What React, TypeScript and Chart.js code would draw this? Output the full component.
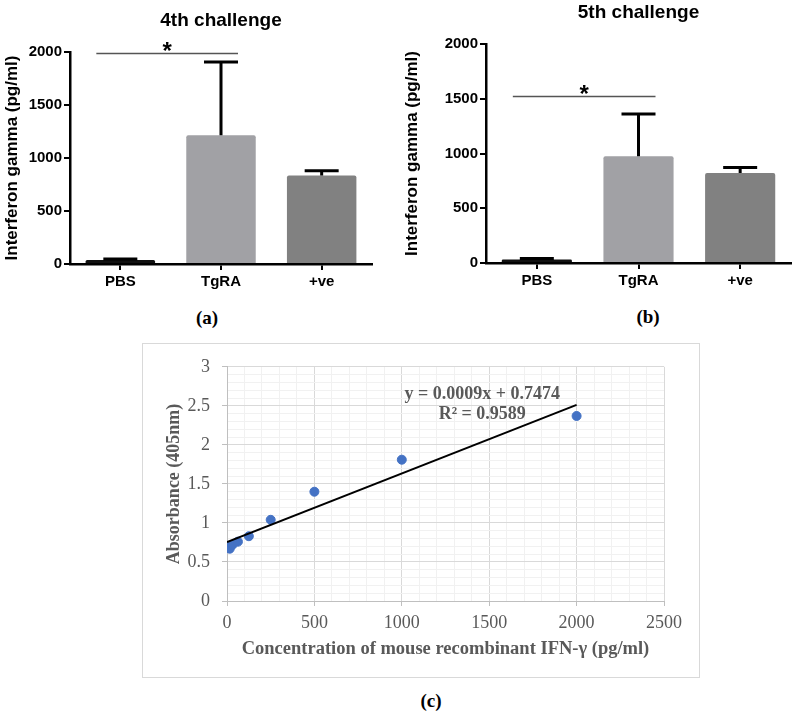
import { useEffect, useRef } from "react";
import { Chart, registerables } from "chart.js";

Chart.register(...registerables);

// bar panels (a) and (b)
const groups = ["PBS", "TgRA", "+ve"];
const means4th = [38, 1215, 835];
const errors4th = [8, 690, 45];
const means5th = [33, 975, 822];
const errors5th = [8, 385, 50];
const sigLine4th = 1985;
const sigLine5th = 1520;
const barTicks = [0, 500, 1000, 1500, 2000];
const barColors = ["#111111", "#a1a1a5", "#818181"];

// standard curve panel (c)
const concentrations = [0, 15.6, 31.25, 62.5, 125, 250, 500, 1000, 2000];
const absorbance = [0.69, 0.67, 0.72, 0.76, 0.83, 1.04, 1.4, 1.81, 2.37];
const fitLabel = ["y = 0.0009x + 0.7474", "R² = 0.9589"];

const sans = "'Liberation Sans', Arial, sans-serif";
const serif = "'Liberation Serif', 'Times New Roman', serif";

type BarPanel = {
  title: string;
  means: number[];
  errors: number[];
  sig: number;
  left: number;
  yWidth: number;
  padRight: number;
  titleTop: number;
  xHeight: number;
};

const panelA: BarPanel = {
  title: "4th challenge",
  means: means4th,
  errors: errors4th,
  sig: sigLine4th,
  left: 0,
  yWidth: 70,
  padRight: 28,
  titleTop: 9.6,
  xHeight: 36,
};

const panelB: BarPanel = {
  title: "5th challenge",
  means: means5th,
  errors: errors5th,
  sig: sigLine5th,
  left: 400,
  yWidth: 86,
  padRight: 9,
  titleTop: 1.6,
  xHeight: 37,
};

function barExtras(errors: number[], sig: number) {
  return {
    id: "barExtras",
    afterDatasetsDraw(chart: any) {
      const { ctx } = chart;
      const x = chart.scales.x;
      const y = chart.scales.y;
      const meta = chart.getDatasetMeta(0);
      const values = chart.data.datasets[0].data as number[];
      ctx.save();
      ctx.strokeStyle = "#000";
      ctx.lineWidth = 3;
      meta.data.forEach((bar: any, i: number) => {
        const yBar = y.getPixelForValue(values[i]);
        const yTop = y.getPixelForValue(values[i] + errors[i]);
        ctx.beginPath();
        ctx.moveTo(bar.x, yBar);
        ctx.lineTo(bar.x, yTop);
        ctx.moveTo(bar.x - 17, yTop);
        ctx.lineTo(bar.x + 17, yTop);
        ctx.stroke();
      });
      const x0 = x.getPixelForValue(0) - 24;
      const x1 = x.getPixelForValue(1) + 17;
      const ys = y.getPixelForValue(sig);
      ctx.strokeStyle = "#555";
      ctx.lineWidth = 1.5;
      ctx.beginPath();
      ctx.moveTo(x0, ys);
      ctx.lineTo(x1, ys);
      ctx.stroke();
      ctx.fillStyle = "#000";
      ctx.font = `bold 24px ${sans}`;
      ctx.textAlign = "center";
      ctx.textBaseline = "alphabetic";
      ctx.fillText("*", (x0 + x1) / 2, ys + 5);
      ctx.restore();
    },
  };
}

function BarChart({ p }: { p: BarPanel }) {
  const ref = useRef<HTMLCanvasElement>(null);

  useEffect(() => {
    if (!ref.current) return;
    const chart = new Chart(ref.current, {
      type: "bar",
      data: {
        labels: groups,
        datasets: [
          {
            data: p.means,
            backgroundColor: barColors,
            borderWidth: 0,
            borderRadius: 2,
            borderSkipped: "bottom",
            barPercentage: 0.69,
            categoryPercentage: 1,
          },
        ],
      },
      options: {
        animation: false,
        responsive: false,
        layout: { padding: { left: 0, right: p.padRight, top: 0, bottom: 0 } },
        plugins: {
          legend: { display: false },
          tooltip: { enabled: false },
          title: {
            display: true,
            fullSize: false,
            text: p.title,
            color: "#000",
            font: { family: sans, size: 19, weight: "bold" },
            padding: { top: p.titleTop, bottom: 19.6 },
          },
        },
        scales: {
          x: {
            grid: {
              drawOnChartArea: false,
              offset: false,
              tickLength: 6,
              color: "#000",
              lineWidth: 2,
            },
            border: { color: "#000", width: 2.5 },
            ticks: {
              color: "#000",
              font: { family: sans, size: 15, weight: "bold" },
              padding: 3,
            },
            afterFit: (s: any) => {
              s.height = p.xHeight;
            },
          },
          y: {
            min: 0,
            max: 2000,
            afterBuildTicks: (s: any) => {
              s.ticks = barTicks.map((v) => ({ value: v }));
            },
            grid: {
              drawOnChartArea: false,
              tickLength: 6,
              color: "#000",
              lineWidth: 2,
            },
            border: { color: "#000", width: 2.5 },
            ticks: {
              color: "#000",
              font: { family: sans, size: 15, weight: "bold" },
              padding: 2,
              callback: (v: any) => String(v),
            },
            title: {
              display: true,
              text: "Interferon gamma (pg/ml)",
              color: "#000",
              font: { family: sans, size: 17, weight: "bold" },
              padding: { top: 2, bottom: 0 },
            },
            afterFit: (s: any) => {
              s.width = p.yWidth;
            },
          },
        },
      },
      plugins: [barExtras(p.errors, p.sig)],
    });
    return () => chart.destroy();
  }, [p]);

  return (
    <canvas
      ref={ref}
      width={400}
      height={300}
      style={{ position: "absolute", left: p.left, top: 0, width: 400, height: 300 }}
    />
  );
}

function fitLine() {
  const n = concentrations.length;
  const mx = concentrations.reduce((a, b) => a + b, 0) / n;
  const my = absorbance.reduce((a, b) => a + b, 0) / n;
  let sxy = 0;
  let sxx = 0;
  concentrations.forEach((c, i) => {
    sxy += (c - mx) * (absorbance[i] - my);
    sxx += (c - mx) * (c - mx);
  });
  const slope = sxy / sxx;
  const icpt = my - slope * mx;
  const xs = [Math.min(...concentrations), Math.max(...concentrations)];
  return xs.map((v) => ({ x: v, y: icpt + slope * v }));
}

const fitLabelPlugin = {
  id: "fitLabel",
  afterDatasetsDraw(chart: any) {
    const { ctx } = chart;
    const x = chart.scales.x.getPixelForValue(1460);
    ctx.save();
    ctx.fillStyle = "#595959";
    ctx.font = `bold 18px ${serif}`;
    ctx.textAlign = "center";
    ctx.textBaseline = "middle";
    ctx.fillText(fitLabel[0], x, chart.scales.y.getPixelForValue(2.65));
    ctx.fillText(fitLabel[1], x, chart.scales.y.getPixelForValue(2.39));
    ctx.restore();
  },
};

const isMajor = (v: number, step: number) =>
  Math.abs(v / step - Math.round(v / step)) < 1e-6;

function CurveChart() {
  const ref = useRef<HTMLCanvasElement>(null);

  useEffect(() => {
    if (!ref.current) return;
    const tickFont = { family: serif, size: 18 };
    const titleFont = { family: serif, size: 18, weight: "bold" as const };
    const chart = new Chart(ref.current, {
      type: "scatter",
      data: {
        datasets: [
          {
            type: "line",
            data: fitLine(),
            borderColor: "#000",
            borderWidth: 2,
            pointRadius: 0,
            fill: false,
          },
          {
            type: "scatter",
            data: concentrations.map((c, i) => ({ x: c, y: absorbance[i] })),
            backgroundColor: "#4472c4",
            borderColor: "#4472c4",
            pointRadius: 4.5,
          },
        ],
      },
      options: {
        animation: false,
        responsive: false,
        layout: { padding: { left: 0, right: 35, top: 19, bottom: 0 } },
        plugins: { legend: { display: false }, tooltip: { enabled: false } },
        scales: {
          x: {
            type: "linear",
            min: 0,
            max: 2500,
            ticks: {
              stepSize: 100,
              autoSkip: false,
              maxRotation: 0,
              color: "#595959",
              font: tickFont,
              padding: 6,
              callback: (v: any) => (isMajor(v, 500) ? String(v) : ""),
            },
            grid: {
              color: (c: any) => (isMajor(c.tick.value, 500) ? "#d9d9d9" : "#f1f1f1"),
              tickColor: (c: any) =>
                isMajor(c.tick.value, 500) ? "#bfbfbf" : "rgba(0,0,0,0)",
              tickLength: 5,
            },
            border: { color: "#bfbfbf", width: 1 },
            title: {
              display: true,
              text: "Concentration of mouse recombinant IFN-γ (pg/ml)",
              color: "#595959",
              font: { ...titleFont, size: 18.5 },
              padding: { top: 0, bottom: 16.8 },
            },
            afterFit: (s: any) => {
              s.height = 76;
            },
          },
          y: {
            min: 0,
            max: 3,
            ticks: {
              stepSize: 0.1,
              autoSkip: false,
              color: "#595959",
              font: tickFont,
              padding: 12,
              callback: (v: any) => (isMajor(v, 0.5) ? String(Math.round(v * 10) / 10) : ""),
            },
            grid: {
              color: (c: any) => (isMajor(c.tick.value, 0.5) ? "#d9d9d9" : "#f1f1f1"),
              tickColor: (c: any) =>
                isMajor(c.tick.value, 0.5) ? "#bfbfbf" : "rgba(0,0,0,0)",
              tickLength: 5,
            },
            border: { color: "#bfbfbf", width: 1 },
            title: {
              display: true,
              text: "Absorbance (405nm)",
              color: "#595959",
              font: titleFont,
              padding: { top: 21, bottom: 0 },
            },
            afterFit: (s: any) => {
              s.width = 84;
            },
          },
        },
      },
      plugins: [fitLabelPlugin],
    });
    return () => chart.destroy();
  }, []);

  return <canvas ref={ref} width={556} height={333} style={{ width: 556, height: 333 }} />;
}

const panelLabel = (left: number, top: number): React.CSSProperties => ({
  position: "absolute",
  left,
  top,
  transform: "translate(-50%, -50%)",
  fontFamily: serif,
  fontWeight: "bold",
  fontSize: 19,
  color: "#000",
  lineHeight: 1,
});

export default function App() {
  return (
    <div
      style={{
        position: "absolute",
        left: 0,
        top: 0,
        width: 800,
        height: 713,
        background: "#fff",
        overflow: "hidden",
      }}
    >
      <BarChart p={panelA} />
      <BarChart p={panelB} />
      <div style={panelLabel(207, 317)}>(a)</div>
      <div style={panelLabel(648, 316)}>(b)</div>
      <div
        style={{
          position: "absolute",
          left: 142,
          top: 343,
          width: 556,
          height: 333,
          border: "1px solid #d9d9d9",
        }}
      >
        <CurveChart />
      </div>
      <div style={panelLabel(431, 700)}>(c)</div>
    </div>
  );
}
